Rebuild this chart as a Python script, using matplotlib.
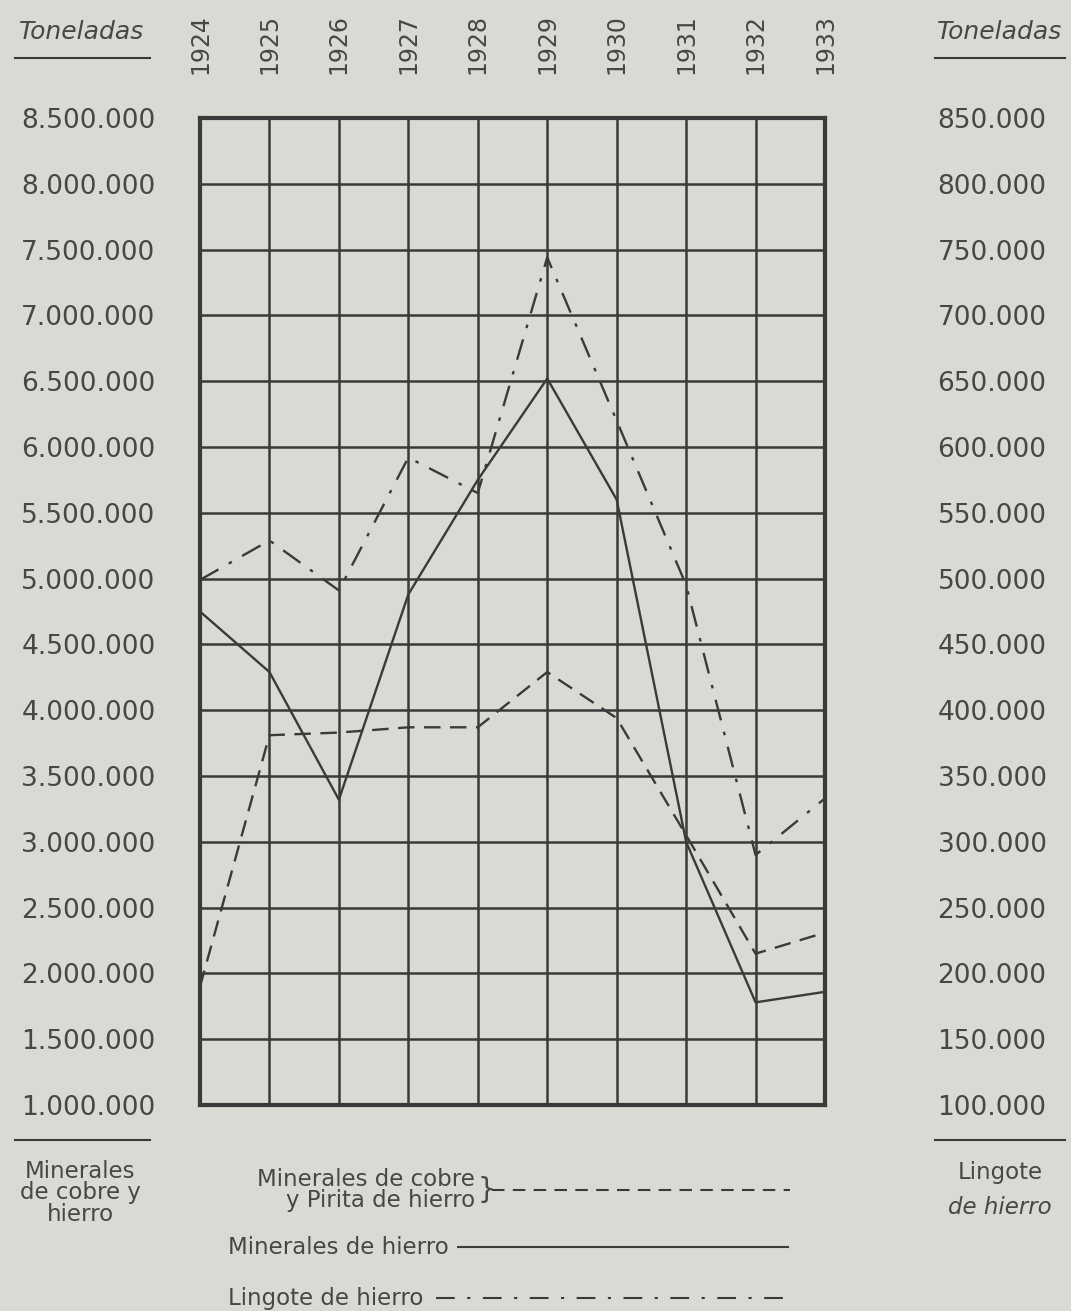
import numpy as np
import matplotlib.pyplot as plt
from matplotlib.lines import Line2D

# Datos (toneladas)
anios = [1924, 1925, 1926, 1927, 1928, 1929, 1930, 1931, 1932, 1933]
cobre_pirita = [1900000, 3810000, 3830000, 3870000, 3870000, 4290000, 3940000, 3050000, 2150000, 2310000]
min_hierro = [4750000, 4290000, 3320000, 4880000, 5750000, 6520000, 5600000, 3000000, 1780000, 1860000]
lingote = [499000, 529000, 491000, 592000, 565000, 744000, 620000, 495000, 290000, 333000]

ticks_izq = np.arange(1000000, 8500001, 500000)
ticks_der = np.arange(100000, 850001, 50000)

fondo = '#dad9d3'
tinta = '#3a3a3a'
letra = '#474745'
fuente = 'DejaVu Sans'

def miles(v):
    return f"{int(v):,}".replace(",", ".")

fig = plt.figure(figsize=(10.71, 13.11), dpi=100, facecolor=fondo)
ax = fig.add_axes([200/1071, 1 - 1105/1311, 625/1071, 987/1311])
ax.set_facecolor(fondo)

ax.plot(anios, cobre_pirita, color=tinta, lw=1.7, dashes=(7, 4))
ax.plot(anios, min_hierro, color=tinta, lw=1.7)
ax.set_xlim(1924, 1933)
ax.set_ylim(1000000, 8500000)
ax.set_yticks(ticks_izq)
ax.set_yticklabels([miles(t) for t in ticks_izq], fontsize=19, family=fuente, color=letra)
ax.set_xticks(anios)
ax.xaxis.tick_top()
ax.set_xticklabels([str(a) for a in anios], rotation=90, fontsize=17, family=fuente, color=letra)
ax.tick_params(axis='y', length=0, pad=32)
ax.tick_params(axis='x', length=0, pad=32)
ax.grid(True, color=tinta, lw=1.8)
for s in ax.spines.values():
    s.set_linewidth(3)
    s.set_color(tinta)

ax2 = ax.twinx()
ax2.plot(anios, lingote, color=tinta, lw=1.7, dashes=(9, 5, 1.5, 5))
ax2.set_ylim(100000, 850000)
ax2.set_yticks(ticks_der)
ax2.set_yticklabels([miles(t) for t in ticks_der], fontsize=19, family=fuente, color=letra)
ax2.tick_params(axis='y', length=0, pad=81)
for s in ax2.spines.values():
    s.set_visible(False)

W, H = 1071, 1311
def fx(x): return x / W
def fy(y): return 1 - y / H

# Encabezados "Toneladas"
fig.text(fx(82), fy(32), "Toneladas", ha='center', va='center', fontsize=18,
         style='italic', family=fuente, color=letra)
fig.add_artist(Line2D([fx(15), fx(150)], [fy(58), fy(58)], color=tinta, lw=1.5))
fig.text(fx(1000), fy(32), "Toneladas", ha='center', va='center', fontsize=18,
         style='italic', family=fuente, color=letra)
fig.add_artist(Line2D([fx(935), fx(1065)], [fy(58), fy(58)], color=tinta, lw=1.5))

# Pies de eje
fig.add_artist(Line2D([fx(15), fx(150)], [fy(1140), fy(1140)], color=tinta, lw=1.5))
fig.text(fx(80), fy(1193), "Minerales\nde cobre y\nhierro", ha='center', va='center',
         fontsize=16.5, family=fuente, color=letra, linespacing=0.9)
fig.add_artist(Line2D([fx(935), fx(1065)], [fy(1140), fy(1140)], color=tinta, lw=1.5))
fig.text(fx(1000), fy(1172), "Lingote", ha='center', va='center', fontsize=16.5,
         family=fuente, color=letra)
fig.text(fx(1000), fy(1207), "de hierro", ha='center', va='center', fontsize=16.5,
         style='italic', family=fuente, color=letra)

# Leyenda
fig.text(fx(475), fy(1180), "Minerales de cobre", ha='right', va='center', fontsize=16.5,
         family=fuente, color=letra)
fig.text(fx(475), fy(1201), "y Pirita de hierro", ha='right', va='center', fontsize=16.5,
         family=fuente, color=letra)
fig.text(fx(477), fy(1190), "}", ha='left', va='center', fontsize=20,
         family=fuente, color=letra)
fig.add_artist(Line2D([fx(492), fx(790)], [fy(1190), fy(1190)], color=tinta, lw=1.5, dashes=(6, 4)))
fig.text(fx(228), fy(1247), "Minerales de hierro", ha='left', va='center', fontsize=16.5,
         family=fuente, color=letra)
fig.add_artist(Line2D([fx(458), fx(788)], [fy(1247), fy(1247)], color=tinta, lw=1.5))
fig.text(fx(228), fy(1298), "Lingote de hierro", ha='left', va='center', fontsize=16.5,
         family=fuente, color=letra)
fig.add_artist(Line2D([fx(436), fx(788)], [fy(1298), fy(1298)], color=tinta, lw=1.5,
                      dashes=(9, 6, 1.5, 6)))

fig.savefig("out.png", dpi=100, facecolor=fondo)
